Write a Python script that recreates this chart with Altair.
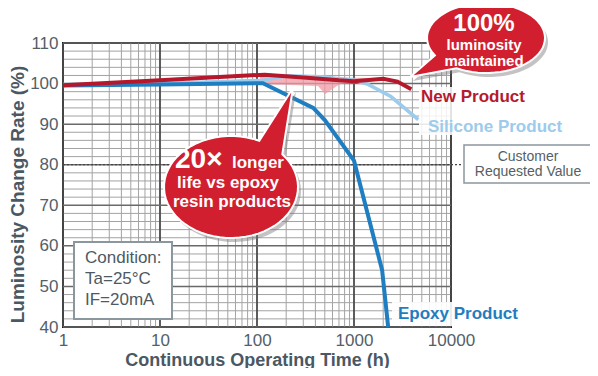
import math
import altair as alt
import pandas as pd

# ---------------- data ----------------
hours_new = [1, 10, 120, 300, 700, 1000, 2000, 2800, 3900]
lum_new = [99.6, 100.8, 102.2, 101.5, 100.8, 100.6, 101.2, 100.5, 98.6]

hours_sil = [1, 10, 115, 200, 450, 1000, 1400, 2400, 4600]
lum_sil = [99.8, 100.0, 100.8, 101.9, 101.7, 100.8, 99.8, 96.8, 91.1]

hours_epx = [1, 10, 115, 380, 500, 1000, 1950, 2250]
lum_epx = [99.5, 99.8, 100.1, 94.0, 91.0, 81.0, 54.0, 40.0]

x_ticks = [1, 10, 100, 1000, 10000]
y_ticks = [40, 50, 60, 70, 80, 90, 100, 110]
x_minor = [k * 10 ** e for e in range(4) for k in range(2, 10)]
y_minor = [v for v in range(40, 111, 2) if v % 10 != 0]
requested_value = 80

FONT = "Liberation Sans"
X0, Y0 = 63, 43          # plot origin on the page
W, H = 388, 284


def tx(px):
    return 10 ** ((px - X0) / (W / 4.0))


def vy(py):
    return 110 - (py - Y0) * 70.0 / H


xs = alt.Scale(type="log", domain=[1, 10000], nice=False)
ys = alt.Scale(domain=[40, 110], nice=False, zero=False)

x_axis = alt.Axis(
    values=x_ticks, format="d", grid=False, ticks=False, domain=False,
    labelFont=FONT, labelFontSize=17, labelColor="#536069", labelPadding=5, labelFlush=False,
    title="Continuous Operating Time (h)", titleFont=FONT, titleFontSize=18, titleFontWeight="bold",
    titleColor="#4a5863", titleY=38, titleBaseline="alphabetic",
)
y_axis = alt.Axis(
    values=y_ticks, grid=False, ticks=False, domain=False,
    labelFont=FONT, labelFontSize=17, labelColor="#536069", labelPadding=5, labelFlush=False,
    title="Luminosity Change Rate (%)", titleFont=FONT, titleFontSize=19, titleFontWeight="bold",
    titleColor="#4a5863", titleX=-46, titleY=151, titleAngle=-90, titleAlign="center",
    titleBaseline="middle",
)


def X(field="t"):
    return alt.X(f"{field}:Q", scale=xs, axis=x_axis)


def Y(field="v"):
    return alt.Y(f"{field}:Q", scale=ys, axis=y_axis)


# ---------------- grid ----------------
g_minor_x = alt.Chart(pd.DataFrame({"t": x_minor})).mark_rule(color="#a3a3a3", strokeWidth=1).encode(x=X())
g_minor_y = alt.Chart(pd.DataFrame({"v": y_minor})).mark_rule(color="#a3a3a3", strokeWidth=1).encode(y=Y())
g_major_x = alt.Chart(pd.DataFrame({"t": x_ticks})).mark_rule(color="#4a4a4a", strokeWidth=1.8).encode(x=X())
g_major_y = alt.Chart(pd.DataFrame({"v": y_ticks})).mark_rule(color="#6a6a6a", strokeWidth=1.5).encode(y=Y())


def rect(px1, py1, px2, py2, **kw):
    df = pd.DataFrame({"t": [tx(px1)], "t2": [tx(px2)], "v": [vy(py1)], "v2": [vy(py2)]})
    return alt.Chart(df).mark_rect(**kw).encode(x=X(), x2="t2:Q", y=Y(), y2="v2:Q")


# white patches behind the series labels
patch_epx = rect(392, 302, 452, 326, color="white", opacity=0.9)
patch_new = rect(419, 87, 452, 135, color="white", opacity=0.85)

# requested value dotted line
req = alt.Chart(pd.DataFrame({"t": [1], "t2": [tx(462)], "v": [requested_value]})).mark_rule(
    color="#444", strokeWidth=1.2, strokeDash=[2, 2]
).encode(x=X(), x2="t2:Q", y=Y())


def shape_layer(px, py, path, **kw):
    df = pd.DataFrame({"t": [tx(px)], "v": [vy(py)]})
    return alt.Chart(df).mark_point(shape=path, size=4, filled=True, **kw).encode(x=X(), y=Y())


# pink arrow
pink_path = "M3,-6 L113,-4 L113,0 L83,2 L68,12 L61,4 L3,2 Z"
pink = shape_layer(257, 82, pink_path, color="#f09aa4", opacity=0.75)

# ---------------- series ----------------
sil = alt.Chart(pd.DataFrame({"t": hours_sil, "v": lum_sil})).mark_line(
    color="#9ccbec", strokeWidth=3.5).encode(x=X(), y=Y())
epx = alt.Chart(pd.DataFrame({"t": hours_epx, "v": lum_epx})).mark_line(
    color="#1f7ec1", strokeWidth=4).encode(x=X(), y=Y())
new = alt.Chart(pd.DataFrame({"t": hours_new, "v": lum_new})).mark_line(
    color="#b5172b", strokeWidth=4).encode(x=X(), y=Y())

# ---------------- boxes ----------------
cond_box = rect(74, 242, 172, 319, fill="white", stroke="#8a979f", strokeWidth=2)
cust_box = rect(464, 145, 592, 183, fill="white", stroke="#8a979f", strokeWidth=1.5)


def text_layer(rows, **kw):
    df = pd.DataFrame({"label": [r[0] for r in rows],
                       "t": [tx(r[1]) for r in rows],
                       "v": [vy(r[2]) for r in rows]})
    return alt.Chart(df).mark_text(font=FONT, **kw).encode(x=X(), y=Y(), text="label:N")


cond_txt = text_layer([("Condition:", 85, 258), ("Ta=25°C", 85, 279), ("IF=20mA", 85, 300)],
                      fontSize=17, color="#4d5a63", align="left", baseline="middle")
cust_txt = text_layer([("Customer", 528, 157), ("Requested Value", 528, 172)],
                      fontSize=14, color="#555f66", align="center", baseline="middle")


# ---------------- speech bubbles ----------------
def bubble_path(rx, ry, a_start, a_end, tip, ox=0.0, oy=0.0, n=60):
    pts = []
    for i in range(n + 1):
        a = math.radians(a_start + (a_end - a_start) * i / n)
        pts.append((rx * math.cos(a) + ox, ry * math.sin(a) + oy))
    pts.append((tip[0] + ox, tip[1] + oy))
    return "M" + " L".join(f"{x:.1f},{y:.1f}" for x, y in pts) + " Z"


top_path = bubble_path(59, 35, 150, 480, (-76, 39))
top_shadow = bubble_path(59, 35, 150, 480, (-76, 39), 3, 4)
mid_path = bubble_path(67, 51, -40, 295, (62, -99))
mid_shadow = bubble_path(67, 51, -40, 295, (62, -99), 3, 4)

b_top_sh = shape_layer(486, 38, top_shadow, color="#7a7a7a", opacity=0.45)
b_top = shape_layer(486, 38, top_path, fill="#d21f2f", stroke="white", strokeWidth=2, opacity=1)
b_mid_sh = shape_layer(231, 187, mid_shadow, color="#7a7a7a", opacity=0.45)
b_mid = shape_layer(231, 187, mid_path, fill="#d21f2f", stroke="white", strokeWidth=2, opacity=1)

t_100 = text_layer([("100%", 484, 31)], fontSize=24, fontWeight="bold", color="white",
                   align="center", baseline="alphabetic")
t_lum = text_layer([("luminosity", 484, 45), ("maintained", 484, 60.5)], fontSize=15,
                   fontWeight="bold", color="white", align="center", baseline="middle")
t_20 = text_layer([("20×", 175, 168)], fontSize=28, fontWeight="bold", color="white",
                  align="left", baseline="alphabetic")
t_longer = text_layer([("longer", 232, 168)], fontSize=17, fontWeight="bold", color="white",
                      align="left", baseline="alphabetic")
t_life = text_layer([("life vs epoxy", 228, 183), ("resin products", 232, 202)], fontSize=17,
                    fontWeight="bold", color="white", align="center", baseline="middle")

# ---------------- series labels ----------------
l_new = text_layer([("New Product", 421, 97)], fontSize=17, fontWeight="bold",
                   color="#b51a2e", align="left", baseline="middle")
l_sil = text_layer([("Silicone Product", 428, 127)], fontSize=17, fontWeight="bold",
                   color="#9ccbec", align="left", baseline="middle")
l_epx = text_layer([("Epoxy Product", 398, 314)], fontSize=17, fontWeight="bold",
                   color="#1f7ec1", align="left", baseline="middle")

chart = alt.layer(
    g_minor_x, g_minor_y, g_major_x, g_major_y,
    patch_epx, patch_new, req, pink,
    sil, epx, new,
    cond_box, cond_txt, cust_box, cust_txt,
    b_top_sh, b_top, b_mid_sh, b_mid,
    t_100, t_lum, t_20, t_longer, t_life,
    l_new, l_sil, l_epx,
).properties(
    width=W, height=H,
    autosize=alt.AutoSizeParams(type="none"),
    padding={"left": X0 - 8, "top": Y0 - 8, "right": 582 - (X0 - 8) - W, "bottom": 360 - (Y0 - 8) - H},
    background="white",
).configure_view(stroke="#1a1a1a", strokeWidth=2)

chart.save("out.html", embed_options={"renderer": "svg", "actions": False})
